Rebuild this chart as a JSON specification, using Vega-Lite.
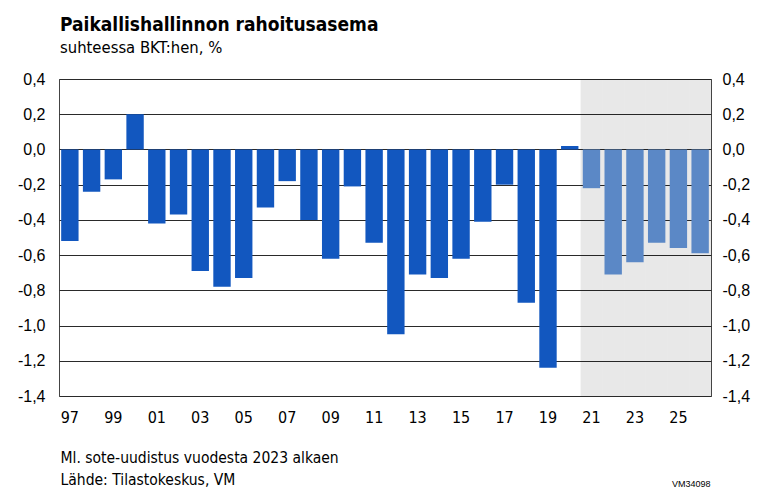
{
  "$schema": "https://vega.github.io/schema/vega-lite/v6.json",
  "width": 652,
  "height": 317,
  "autosize": "none",
  "padding": {"left": 59, "top": 79, "right": 49, "bottom": 96},
  "background": "white",
  "title": {
    "text": "Paikallishallinnon rahoitusasema",
    "subtitle": "suhteessa BKT:hen, %",
    "anchor": "start",
    "frame": "group",
    "dx": 1,
    "offset": 15,
    "font": "DejaVu Sans Condensed, Liberation Sans, sans-serif",
    "fontSize": 19,
    "fontWeight": "bold",
    "color": "#000000",
    "subtitleFont": "DejaVu Sans Condensed, Liberation Sans, sans-serif",
    "subtitleFontSize": 16.5,
    "subtitleColor": "#000000",
    "subtitlePadding": 5
  },
  "config": {
    "view": {"stroke": "#444444", "strokeWidth": 1}
  },
  "data": {
    "values": [
      {"year": 1997, "value": -0.52, "type": "toteutunut"},
      {"year": 1998, "value": -0.24, "type": "toteutunut"},
      {"year": 1999, "value": -0.17, "type": "toteutunut"},
      {"year": 2000, "value": 0.2, "type": "toteutunut"},
      {"year": 2001, "value": -0.42, "type": "toteutunut"},
      {"year": 2002, "value": -0.37, "type": "toteutunut"},
      {"year": 2003, "value": -0.69, "type": "toteutunut"},
      {"year": 2004, "value": -0.78, "type": "toteutunut"},
      {"year": 2005, "value": -0.73, "type": "toteutunut"},
      {"year": 2006, "value": -0.33, "type": "toteutunut"},
      {"year": 2007, "value": -0.18, "type": "toteutunut"},
      {"year": 2008, "value": -0.4, "type": "toteutunut"},
      {"year": 2009, "value": -0.62, "type": "toteutunut"},
      {"year": 2010, "value": -0.21, "type": "toteutunut"},
      {"year": 2011, "value": -0.53, "type": "toteutunut"},
      {"year": 2012, "value": -1.05, "type": "toteutunut"},
      {"year": 2013, "value": -0.71, "type": "toteutunut"},
      {"year": 2014, "value": -0.73, "type": "toteutunut"},
      {"year": 2015, "value": -0.62, "type": "toteutunut"},
      {"year": 2016, "value": -0.41, "type": "toteutunut"},
      {"year": 2017, "value": -0.2, "type": "toteutunut"},
      {"year": 2018, "value": -0.87, "type": "toteutunut"},
      {"year": 2019, "value": -1.24, "type": "toteutunut"},
      {"year": 2020, "value": 0.02, "type": "toteutunut"},
      {"year": 2021, "value": -0.22, "type": "ennuste"},
      {"year": 2022, "value": -0.71, "type": "ennuste"},
      {"year": 2023, "value": -0.64, "type": "ennuste"},
      {"year": 2024, "value": -0.53, "type": "ennuste"},
      {"year": 2025, "value": -0.56, "type": "ennuste"},
      {"year": 2026, "value": -0.59, "type": "ennuste"}
    ]
  },
  "layer": [
    {
      "transform": [{"filter": "datum.type === 'ennuste'"}],
      "mark": {"type": "bar", "color": "#000000", "opacity": 0.09, "width": {"band": 1}},
      "encoding": {
        "x": {
          "field": "year",
          "type": "ordinal",
          "scale": {"paddingInner": 0, "paddingOuter": 0},
          "axis": {
            "values": [1997, 1999, 2001, 2003, 2005, 2007, 2009, 2011, 2013, 2015, 2017, 2019, 2021, 2023, 2025],
            "labelExpr": "substring(datum.label, 2)",
            "labelAngle": 0,
            "ticks": false,
            "domain": false,
            "labelFont": "DejaVu Sans Condensed, Liberation Sans, sans-serif",
            "labelFontSize": 16,
            "labelColor": "#000000",
            "labelPadding": 13,
            "title": ["Ml. sote-uudistus vuodesta 2023 alkaen", "Lähde: Tilastokeskus, VM"],
            "titleFont": "DejaVu Sans Condensed, Liberation Sans, sans-serif",
            "titleFontSize": 15.5,
            "titleFontWeight": "normal",
            "titleColor": "#000000",
            "titleAnchor": "start",
            "titleAlign": "left",
            "titleBaseline": "alphabetic",
            "titleLineHeight": 22,
            "titleX": 1,
            "titleY": 66
          }
        },
        "y": {
          "datum": 0.4,
          "type": "quantitative",
          "scale": {"domain": [-1.4, 0.4], "nice": false, "zero": false},
          "axis": {
            "orient": "left",
            "values": [-1.4, -1.2, -1.0, -0.8, -0.6, -0.4, -0.2, 0, 0.2, 0.4],
            "labelExpr": "replace(replace(format(datum.value, '.1f'), '.', ','), '\u2212', '-')",
            "ticks": false,
            "domain": false,
            "grid": true,
            "gridColor": "#2a2a2a",
            "gridWidth": 1,
            "gridOpacity": 1,
            "labelFont": "Liberation Sans",
            "labelFontSize": 16,
            "labelColor": "#000000",
            "labelPadding": 14,
            "title": null
          }
        },
        "y2": {"datum": -1.4}
      }
    },
    {
      "mark": {"type": "bar", "width": {"band": 0.8}},
      "encoding": {
        "x": {"field": "year", "type": "ordinal"},
        "y": {
          "field": "value",
          "type": "quantitative",
          "axis": {
            "orient": "right",
            "values": [-1.4, -1.2, -1.0, -0.8, -0.6, -0.4, -0.2, 0, 0.2, 0.4],
            "labelExpr": "replace(replace(format(datum.value, '.1f'), '.', ','), '\u2212', '-')",
            "ticks": false,
            "domain": false,
            "grid": false,
            "labelFont": "Liberation Sans",
            "labelFontSize": 16,
            "labelColor": "#000000",
            "labelPadding": 11,
            "title": "VM34098",
            "titleAngle": 0,
            "titleFont": "Liberation Sans",
            "titleFontSize": 9,
            "titleFontWeight": "normal",
            "titleColor": "#000000",
            "titleAlign": "right",
            "titleBaseline": "alphabetic",
            "titleX": -1,
            "titleY": 407
          }
        },
        "y2": {"datum": 0},
        "color": {
          "field": "type",
          "type": "nominal",
          "scale": {"domain": ["toteutunut", "ennuste"], "range": ["#1257BF", "#5B88C6"]},
          "legend": null
        }
      }
    }
  ],
  "resolve": {"axis": {"y": "independent"}}
}
